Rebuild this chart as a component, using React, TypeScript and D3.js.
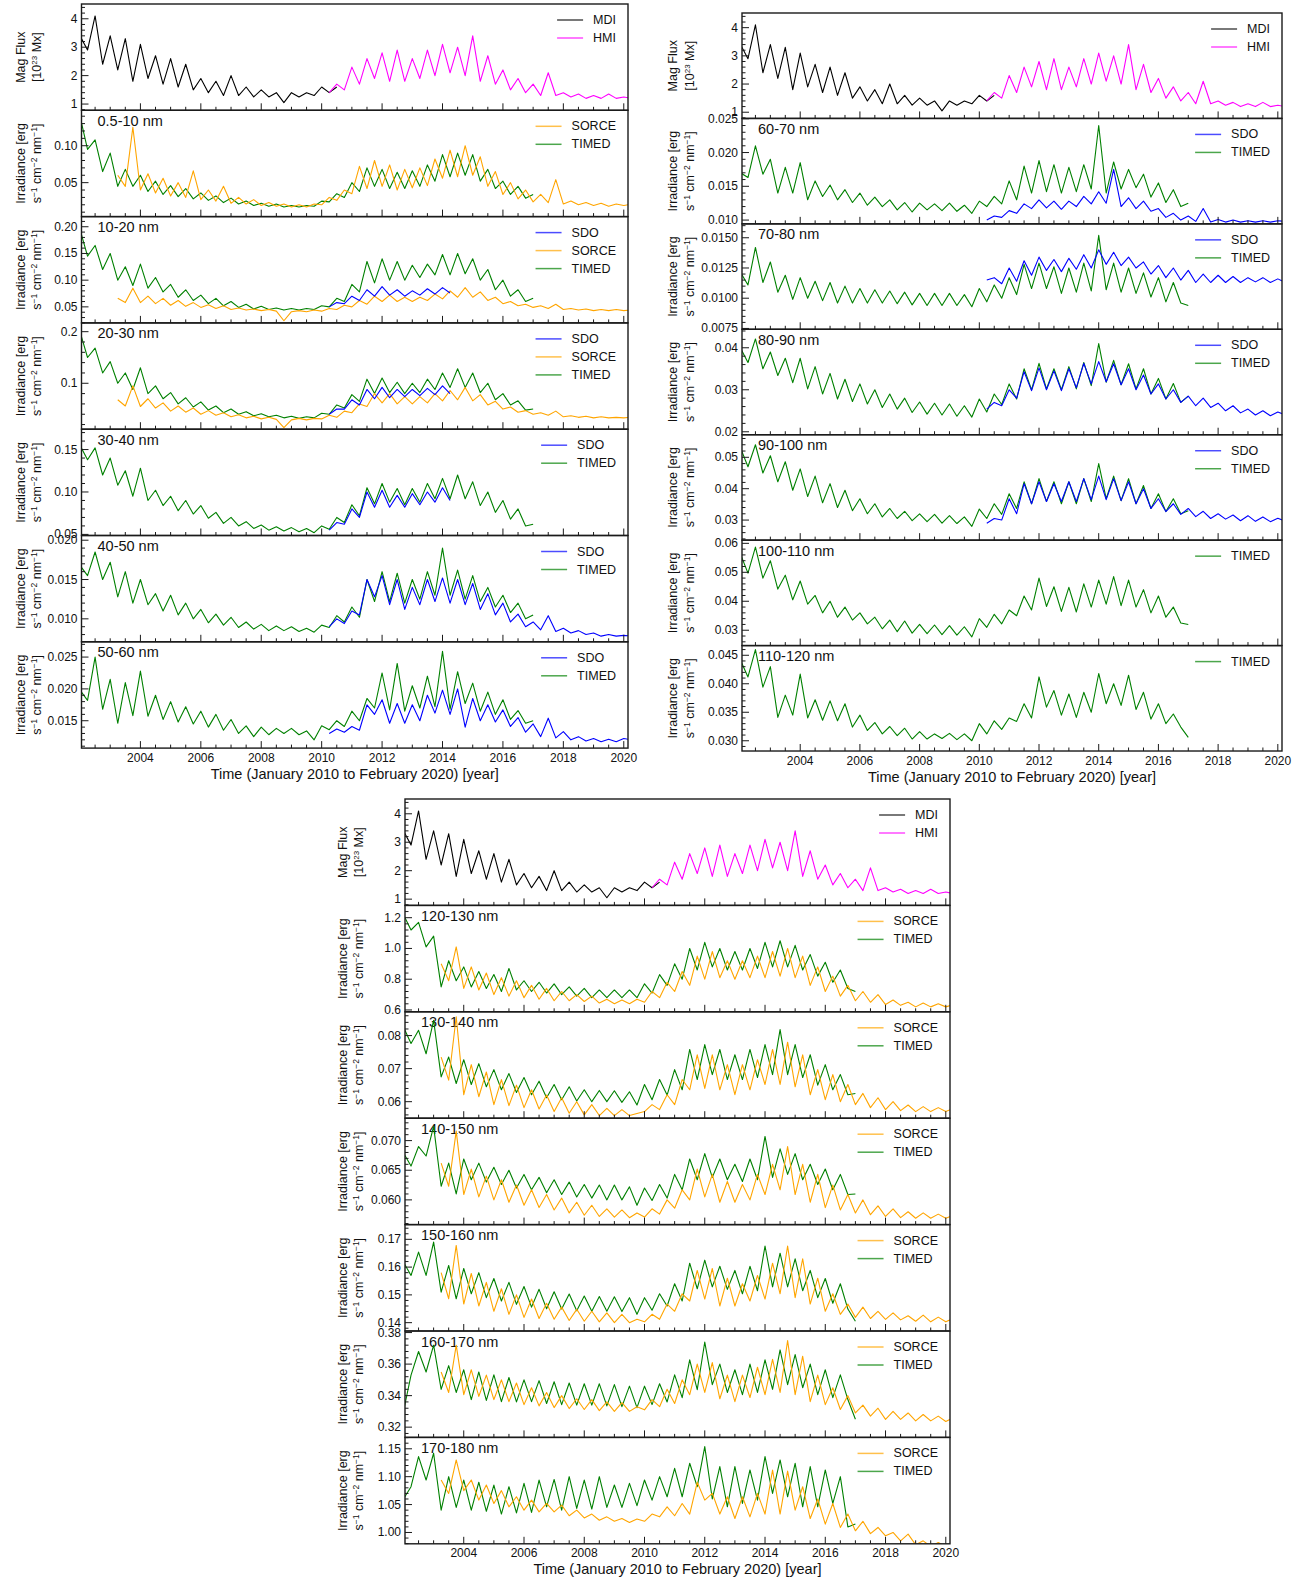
import React from "react";
import * as d3 from "d3";

// Each record is sampled every quarter year; consecutive samples alternate between the
// upper and lower edge of the rotational (27-day) spread of the daily values.
const STEP = 0.25;
const YEARS: [number, number] = [2002.05, 2020.14];

type Inst = "MDI" | "HMI" | "SDO" | "SORCE" | "TIMED";
const START_YEAR: Record<Inst, number> = { MDI: 2002.0, HMI: 2010.25, SDO: 2010.25, SORCE: 2003.25, TIMED: 2002.0 };
const COLOR: Record<Inst, string> = { MDI: "#000000", HMI: "#ff00ff", SDO: "#0000ff", SORCE: "#ffa500", TIMED: "#008000" };

// ---- total unsigned magnetic flux, units of 1e21 Mx (shown as 1e23 Mx) ----
const mdiFlux = [340,290,410,240,340,220,330,180,310,190,270,170,260,160,240,150,190,140,180,130,200,130,160,125,150,125,140,105,140,125,140,130,160,140,160];
const hmiFlux = [140,170,150,230,170,260,190,280,180,290,180,260,190,290,200,310,210,300,200,340,180,270,170,220,150,190,140,170,130,210,130,140,125,135,120,130,120,135,120,125,120];

// ---- 0.5-10 nm, units 1e-3 ----
const timed_05_10 = [140,95,108,65,90,45,68,45,60,38,52,34,46,31,42,28,36,26,32,23,29,21,25,19,22,18,21,17,19,17,19,18,25,24,35,30,50,38,70,45,68,42,64,42,66,45,74,52,88,58,90,60,88,52,68,42,52,34,45,29,34];
const sorce_05_10 = [60,45,125,40,62,36,56,32,50,30,66,27,40,25,45,22,30,21,27,19,23,18,21,17,20,17,21,20,30,26,40,35,72,42,80,45,74,40,68,43,70,46,82,56,94,58,100,60,85,45,65,34,50,28,40,24,34,23,54,21,25,20,23,19,22,18,21,19,21];

// ---- 10-20 nm, units 1e-3 ----
const timed_10_20 = [195,145,165,120,150,100,125,90,130,85,105,78,92,68,82,62,72,56,66,52,60,49,55,46,51,45,48,44,47,44,47,45,52,50,66,60,92,78,135,95,140,100,135,100,128,105,130,110,148,110,150,112,140,100,120,82,100,70,82,60,66];
const sorce_10_20 = [66,58,85,58,70,56,66,53,62,51,58,49,54,47,52,45,48,44,46,43,45,42,24,41,43,41,44,42,47,45,53,50,62,55,70,60,72,60,68,60,68,62,74,65,80,68,86,68,78,62,68,56,60,52,55,49,52,47,55,45,47,44,46,43,45,43,45,43,44];
const sdo_10_20 = [50,58,56,70,62,82,70,88,72,82,70,80,72,84,74,86,76];

// ---- 20-30 nm, units 1e-3 ----
const timed_20_30 = [200,150,168,120,142,100,120,88,130,80,95,70,82,60,72,54,64,48,56,43,50,40,45,37,41,35,38,33,36,32,35,33,42,40,58,52,78,65,108,80,110,82,102,80,100,82,108,88,120,92,128,92,120,82,100,68,80,58,66,48,50];
const sorce_20_30 = [68,56,95,55,70,52,62,46,56,44,52,40,47,38,43,35,39,33,36,31,34,30,14,29,32,29,32,31,38,34,46,43,60,55,80,62,80,60,74,60,74,62,80,66,86,68,92,66,78,58,65,50,54,44,47,40,43,38,46,35,37,34,36,33,35,33,34,33,34];
const sdo_20_30 = [40,50,50,68,58,88,70,92,72,88,74,88,76,90,78,95,80];

// ---- 30-40 nm, units 1e-3 ----
const timed_30_40 = [155,138,152,120,140,108,125,95,128,90,102,84,95,78,90,74,84,69,76,63,70,60,65,57,61,55,59,54,58,53,57,52,60,56,70,64,85,72,105,86,110,88,104,85,104,88,110,92,116,92,120,92,112,84,100,76,90,68,80,60,62];
const sdo_30_40 = [55,64,62,80,70,100,82,102,82,96,82,98,85,100,88,105,90];

// ---- 40-50 nm, units 1e-4 ----
const timed_40_50 = [168,155,185,150,172,128,160,120,150,118,132,110,130,105,120,100,112,95,106,92,102,89,96,87,93,85,91,85,90,84,88,83,92,89,104,96,115,102,150,122,160,122,158,120,150,125,160,130,190,130,162,125,155,122,140,115,130,108,120,100,105];
const sdo_40_50 = [90,100,94,110,105,150,128,155,118,150,112,140,118,150,122,152,120,150,118,145,112,132,105,120,96,106,90,96,86,104,84,88,82,85,80,82,78,80,78,79,78];

// ---- 50-60 nm, units 1e-4 ----
const timed_50_60 = [198,182,250,168,215,146,210,158,228,157,190,152,180,148,172,145,165,140,160,135,152,130,142,125,140,128,138,130,138,128,134,120,142,136,150,141,165,150,185,170,225,167,240,165,205,170,220,172,259,168,227,177,209,165,195,160,183,152,166,146,150];
const sdo_50_60 = [130,137,132,141,135,175,160,183,146,177,146,175,150,190,162,198,160,200,140,185,150,175,148,167,141,155,132,145,125,154,123,133,120,125,118,122,117,121,117,122,120];

// ---- 60-70 nm, units 1e-4 ----
const timed_60_70 = [170,163,210,168,190,140,178,140,185,130,158,135,152,130,145,126,140,122,134,120,130,115,126,112,125,115,124,114,125,113,122,110,128,120,135,124,158,130,180,140,188,142,182,140,178,142,182,146,240,140,186,146,175,148,168,134,155,126,145,120,125];
const sdo_60_70 = [100,106,104,114,110,124,117,130,118,128,116,128,120,135,124,142,125,175,120,133,117,128,113,117,104,110,100,106,98,117,97,101,97,100,97,99,97,99,97,99,98];

// ---- 70-80 nm, units 1e-5 ----
const timed_70_80 = [1214,1110,1420,1130,1300,1050,1190,990,1170,1000,1140,980,1130,960,1100,960,1080,960,1070,960,1060,955,1050,945,1040,940,1040,940,1040,940,1030,930,1080,970,1110,1000,1170,1030,1280,1080,1290,1080,1260,1040,1250,1050,1290,1060,1520,1070,1290,1050,1250,1040,1210,1010,1170,970,1130,960,940];
const sdo_70_80 = [1150,1170,1120,1250,1140,1310,1190,1340,1230,1320,1220,1330,1240,1360,1250,1400,1280,1380,1270,1340,1250,1300,1200,1270,1170,1250,1150,1230,1130,1200,1130,1190,1130,1180,1130,1170,1135,1170,1130,1160,1130];

// ---- 80-90 nm, units 1e-4 ----
const timed_80_90 = [399,365,421,350,390,334,375,317,375,302,355,290,339,278,325,272,314,266,300,258,290,254,280,246,271,242,268,240,266,237,262,235,278,247,290,265,314,278,350,300,363,302,350,300,355,302,365,310,410,318,370,312,362,302,350,290,327,278,315,270,285];
const sdo_80_90 = [254,270,262,300,280,343,298,352,300,345,298,350,305,363,314,367,319,362,312,350,300,335,290,314,278,300,270,285,262,280,258,268,250,262,245,254,240,250,238,247,240];

// ---- 90-100 nm, units 1e-4 ----
const timed_90_100 = [530,470,540,450,505,422,486,395,463,375,440,355,416,340,395,330,368,320,352,310,337,305,328,298,320,295,318,290,314,289,310,280,335,305,352,318,384,337,422,352,432,359,422,352,422,352,432,359,480,368,440,362,432,352,410,337,384,327,368,320,330];
const sdo_90_100 = [290,305,300,368,320,416,352,422,359,416,359,422,359,432,365,440,365,432,362,422,352,400,337,368,327,352,318,337,311,328,305,320,303,316,298,314,296,310,295,306,296];

// ---- 100-110 nm, units 1e-4 ----
const timed_100_110 = [562,497,587,480,540,442,490,405,470,390,420,360,400,345,380,335,360,322,345,305,335,295,332,290,320,288,318,285,316,283,312,277,340,310,355,322,370,350,418,370,480,382,450,365,448,363,460,380,473,390,485,385,473,380,440,360,418,345,380,325,320];

// ---- 110-120 nm, units 1e-4 ----
const timed_110_120 = [441,412,460,394,430,341,380,345,417,340,372,336,370,335,365,324,345,318,332,312,325,309,322,303,316,303,312,304,313,302,312,300,330,312,335,320,340,334,365,340,412,359,388,345,382,341,385,350,418,365,400,362,415,355,385,338,365,330,347,324,306];

// ---- 120-130 nm, units 1e-3 ----
const timed_120_130 = [1220,1120,1170,1010,1080,750,920,790,880,750,850,740,830,720,870,730,790,720,780,710,770,700,750,690,740,680,730,680,730,680,730,680,770,710,830,760,900,800,1000,860,1040,880,1000,860,980,860,1000,870,1040,880,1050,880,1020,860,960,820,910,780,860,740,720];
const sorce_120_130 = [900,790,1010,740,880,730,840,700,810,690,790,680,760,670,740,660,720,660,700,655,690,645,670,640,665,640,670,650,720,680,780,720,850,760,950,800,980,810,920,800,920,810,950,810,980,820,1000,810,950,760,880,720,820,690,760,660,720,650,700,635,665,630,650,620,645,620,640,620,635];

// ---- 130-140 nm, units 1e-4 ----
const timed_130_140 = [826,776,816,745,846,675,735,655,727,652,715,645,697,636,685,628,673,621,662,612,652,606,645,602,636,600,634,600,633,598,630,590,652,606,667,620,697,636,758,667,773,682,758,667,742,667,758,673,773,682,818,682,773,673,742,650,712,636,682,621,625];
const sorce_130_140 = [735,665,857,621,712,615,690,591,667,588,650,582,636,578,620,570,612,565,600,560,591,558,580,558,576,558,564,570,591,576,621,591,667,636,742,640,742,636,712,621,712,636,727,652,758,652,780,645,742,621,697,606,682,600,652,591,625,582,612,576,600,573,590,570,585,570,582,570,580];

// ---- 140-150 nm, units 1e-5 ----
const timed_140_150 = [6790,6570,6900,6740,7240,6230,6620,6100,6690,6340,6620,6300,6550,6260,6500,6200,6430,6170,6380,6120,6340,6090,6300,6050,6260,6030,6250,6000,6250,6000,6220,5910,6200,5990,6260,6030,6430,6170,6690,6340,6780,6380,6690,6340,6600,6310,6690,6340,7070,6380,6860,6430,6780,6340,6600,6260,6520,6170,6430,6090,6100];
const sorce_140_150 = [6620,6230,7160,6090,6520,6050,6400,6000,6340,5960,6250,5910,6170,5870,6090,5830,6030,5780,5960,5740,5910,5720,5850,5710,5830,5700,5780,5710,5850,5760,6000,5860,6170,6000,6520,6050,6430,5960,6310,5960,6260,6000,6430,6090,6600,6170,6900,6090,6600,5960,6430,5870,6250,5830,6090,5780,6000,5750,5900,5720,5850,5700,5800,5690,5780,5690,5760,5690,5740];

// ---- 150-160 nm, units 1e-4 ----
const timed_150_160 = [1618,1570,1654,1570,1690,1510,1606,1486,1595,1504,1580,1490,1559,1478,1545,1466,1530,1456,1520,1450,1511,1449,1503,1443,1496,1441,1494,1441,1493,1440,1490,1430,1490,1445,1504,1460,1540,1478,1614,1522,1625,1529,1603,1520,1588,1504,1603,1515,1676,1529,1650,1529,1630,1515,1588,1490,1559,1470,1540,1449,1405];
const sorce_150_160 = [1580,1486,1678,1467,1577,1460,1545,1441,1522,1430,1500,1419,1485,1415,1470,1412,1456,1408,1448,1405,1441,1403,1435,1400,1430,1400,1412,1403,1430,1412,1467,1441,1504,1478,1588,1485,1595,1460,1560,1460,1540,1478,1570,1485,1614,1504,1676,1490,1630,1467,1560,1441,1504,1430,1467,1419,1456,1415,1441,1412,1435,1410,1425,1405,1427,1403,1420,1403,1415];

// ---- 160-170 nm, units 1e-4 ----
const timed_160_170 = [3300,3530,3680,3550,3720,3440,3590,3420,3564,3375,3550,3370,3532,3362,3515,3360,3500,3362,3495,3350,3488,3343,3480,3340,3475,3340,3475,3335,3470,3330,3460,3324,3460,3343,3475,3360,3532,3387,3627,3438,3740,3470,3600,3420,3564,3406,3600,3420,3627,3440,3690,3470,3660,3450,3600,3406,3564,3387,3532,3375,3250];
const sorce_160_170 = [3550,3420,3720,3406,3564,3395,3530,3375,3500,3362,3480,3343,3450,3335,3420,3324,3400,3318,3380,3312,3375,3305,3360,3300,3355,3300,3330,3310,3375,3330,3440,3350,3500,3406,3600,3420,3610,3380,3530,3362,3530,3388,3580,3406,3630,3420,3750,3406,3650,3362,3530,3343,3450,3312,3400,3290,3340,3270,3320,3249,3300,3249,3290,3240,3280,3240,3270,3236,3260];

// ---- 170-180 nm, units 1e-3 ----
const timed_170_180 = [1060,1082,1136,1094,1142,1040,1100,1045,1094,1040,1090,1038,1085,1033,1082,1035,1088,1036,1094,1046,1095,1040,1100,1043,1094,1042,1100,1045,1085,1045,1088,1048,1094,1058,1100,1064,1115,1064,1124,1082,1154,1060,1118,1046,1118,1052,1112,1058,1136,1070,1130,1064,1124,1046,1118,1046,1112,1052,1100,1010,1015];
const sorce_170_180 = [1094,1070,1130,1075,1094,1058,1085,1052,1075,1046,1064,1040,1058,1037,1052,1037,1049,1030,1040,1026,1033,1022,1028,1020,1025,1018,1024,1020,1033,1028,1046,1030,1052,1033,1090,1058,1070,1033,1064,1025,1064,1028,1070,1033,1112,1033,1110,1040,1082,1025,1060,1015,1052,1009,1033,1003,1020,998,1009,994,1000,985,997,978,985,975,982,975,980];

// ---------------------------------------------------------------------------
interface PanelDef {
  band: string | null;
  unit: number;
  domain: [number, number];
  major: number;
  fmt: string;
  kind: "mag" | "irr";
  draw: [Inst, number[]][];
  legend: Inst[];
}

const irr = (band: string, unit: number, domain: [number, number], major: number, fmt: string,
  draw: [Inst, number[]][], legend: Inst[]): PanelDef => ({ band, unit, domain, major, fmt, kind: "irr", draw, legend });

const MAG: PanelDef = {
  band: null, unit: 0.01, domain: [0.78, 4.52], major: 1, fmt: "d", kind: "mag",
  draw: [["MDI", mdiFlux], ["HMI", hmiFlux]], legend: ["MDI", "HMI"],
};

const LEFT_PANELS: PanelDef[] = [
  MAG,
  irr("0.5-10 nm", 1e-3, [0.004, 0.148], 0.05, ".2f", [["TIMED", timed_05_10], ["SORCE", sorce_05_10]], ["SORCE", "TIMED"]),
  irr("10-20 nm", 1e-3, [0.020, 0.219], 0.05, ".2f", [["TIMED", timed_10_20], ["SORCE", sorce_10_20], ["SDO", sdo_10_20]], ["SDO", "SORCE", "TIMED"]),
  irr("20-30 nm", 1e-3, [0.011, 0.217], 0.1, ".1f", [["TIMED", timed_20_30], ["SORCE", sorce_20_30], ["SDO", sdo_20_30]], ["SDO", "SORCE", "TIMED"]),
  irr("30-40 nm", 1e-3, [0.0487, 0.174], 0.05, ".2f", [["TIMED", timed_30_40], ["SDO", sdo_30_40]], ["SDO", "TIMED"]),
  irr("40-50 nm", 1e-4, [0.00708, 0.0206], 0.005, ".3f", [["TIMED", timed_40_50], ["SDO", sdo_40_50]], ["SDO", "TIMED"]),
  irr("50-60 nm", 1e-4, [0.0107, 0.0274], 0.005, ".3f", [["TIMED", timed_50_60], ["SDO", sdo_50_60]], ["SDO", "TIMED"]),
];

const RIGHT_PANELS: PanelDef[] = [
  MAG,
  irr("60-70 nm", 1e-4, [0.00944, 0.02505], 0.005, ".3f", [["TIMED", timed_60_70], ["SDO", sdo_60_70]], ["SDO", "TIMED"]),
  irr("70-80 nm", 1e-5, [0.00743, 0.01615], 0.0025, ".4f", [["TIMED", timed_70_80], ["SDO", sdo_70_80]], ["SDO", "TIMED"]),
  irr("80-90 nm", 1e-4, [0.0193, 0.0444], 0.01, ".2f", [["TIMED", timed_80_90], ["SDO", sdo_80_90]], ["SDO", "TIMED"]),
  irr("90-100 nm", 1e-4, [0.0236, 0.0572], 0.01, ".2f", [["TIMED", timed_90_100], ["SDO", sdo_90_100]], ["SDO", "TIMED"]),
  irr("100-110 nm", 1e-4, [0.0247, 0.0611], 0.01, ".2f", [["TIMED", timed_100_110]], ["TIMED"]),
  irr("110-120 nm", 1e-4, [0.0282, 0.0467], 0.005, ".3f", [["TIMED", timed_110_120]], ["TIMED"]),
];

const BOTTOM_PANELS: PanelDef[] = [
  MAG,
  irr("120-130 nm", 1e-3, [0.588, 1.28], 0.2, ".1f", [["TIMED", timed_120_130], ["SORCE", sorce_120_130]], ["SORCE", "TIMED"]),
  irr("130-140 nm", 1e-4, [0.055, 0.0872], 0.01, ".2f", [["TIMED", timed_130_140], ["SORCE", sorce_130_140]], ["SORCE", "TIMED"]),
  irr("140-150 nm", 1e-5, [0.05583, 0.07378], 0.005, ".3f", [["TIMED", timed_140_150], ["SORCE", sorce_140_150]], ["SORCE", "TIMED"]),
  irr("150-160 nm", 1e-4, [0.137, 0.1753], 0.01, ".2f", [["TIMED", timed_150_160], ["SORCE", sorce_150_160]], ["SORCE", "TIMED"]),
  irr("160-170 nm", 1e-4, [0.3135, 0.381], 0.02, ".2f", [["TIMED", timed_160_170], ["SORCE", sorce_160_170]], ["SORCE", "TIMED"]),
  irr("170-180 nm", 1e-3, [0.9797, 1.1704], 0.05, ".2f", [["TIMED", timed_170_180], ["SORCE", sorce_170_180]], ["SORCE", "TIMED"]),
];

interface ColumnDef { x0: number; x1: number; top: number; h: number; lab1: number; lab2: number; panels: PanelDef[] }

const COLUMNS: ColumnDef[] = [
  { x0: 81.5, x1: 628, top: 4, h: 106.3, lab1: 21, lab2: 37, panels: LEFT_PANELS },
  { x0: 742, x1: 1282, top: 13, h: 105.43, lab1: 673, lab2: 690, panels: RIGHT_PANELS },
  { x0: 405, x1: 950, top: 799, h: 106.4, lab1: 343, lab2: 359, panels: BOTTOM_PANELS },
];

const FONT = "'Liberation Sans', Arial, Helvetica, sans-serif";
const INK = "#1a1a1a";

let measureCtx: CanvasRenderingContext2D | null = null;
function textWidth(s: string, size: number): number {
  if (!measureCtx) measureCtx = document.createElement("canvas").getContext("2d");
  if (!measureCtx) return s.length * size * 0.6;
  measureCtx.font = `${size}px ${FONT}`;
  return measureCtx.measureText(s).width;
}

function Panel({ p, col, ci, i, x, halfYears }: { p: PanelDef; col: ColumnDef; ci: number; i: number; x: d3.ScaleLinear<number, number>; halfYears: number[] }) {
  const top = col.top + i * col.h;
  const bottom = top + col.h;
  const cy = (top + bottom) / 2;
  const y = d3.scaleLinear().domain(p.domain).range([bottom, top]);
  const fmt = d3.format(p.fmt);
  const minor = p.major / 5;
  const k0 = Math.ceil(p.domain[0] / minor - 1e-6);
  const k1 = Math.floor(p.domain[1] / minor + 1e-6);
  const yTicks = d3.range(k0, k1 + 1);
  const clipId = `clip-${ci}-${i}`;

  const legendSize = 12.5;
  const maxW = Math.max(...p.legend.map((n) => textWidth(n, legendSize)));
  const legTextX = col.x1 - 12 - maxW;
  const legLineX2 = legTextX - 10;
  const legLineX1 = legLineX2 - 26;

  return (
    <g>
      <defs>
        <clipPath id={clipId}>
          <rect x={col.x0} y={top} width={col.x1 - col.x0} height={col.h} />
        </clipPath>
      </defs>
      {p.band && (
        <text x={col.x0 + 16} y={top + 15.5} fontSize={14.5} fill="#111">{p.band}</text>
      )}
      <g clipPath={`url(#${clipId})`}>
        {p.draw.map(([inst, vals]) => {
          const line = d3.line<number>()
            .x((_, k) => x(START_YEAR[inst] + k * STEP))
            .y((v) => y(v * p.unit));
          return <path key={inst} d={line(vals) || ""} fill="none" stroke={COLOR[inst]} strokeWidth={1.1} strokeLinejoin="round" />;
        })}
      </g>
      {p.legend.map((name, j) => {
        const ly = top + 16 + 18 * j;
        return (
          <g key={name}>
            <line x1={legLineX1} x2={legLineX2} y1={ly} y2={ly} stroke={COLOR[name]} strokeWidth={1.5} strokeOpacity={0.7} />
            <text x={legTextX} y={ly} dominantBaseline="central" fontSize={legendSize} fill="#111">{name}</text>
          </g>
        );
      })}
      {halfYears.map((k) => {
        const len = k % 4 === 0 ? 7 : 3.5;
        return <line key={`xt${k}`} x1={x(k / 2)} x2={x(k / 2)} y1={bottom} y2={bottom - len} stroke={INK} strokeWidth={1} />;
      })}
      {yTicks.map((k) => {
        const v = k * minor;
        const isMajor = k % 5 === 0;
        return (
          <g key={`yt${k}`}>
            <line x1={col.x0} x2={col.x0 + (isMajor ? 7 : 3.5)} y1={y(v)} y2={y(v)} stroke={INK} strokeWidth={1} />
            {isMajor && (
              <text x={col.x0 - 4} y={y(v)} dominantBaseline="central" textAnchor="end" fontSize={12} fill="#111">{fmt(v)}</text>
            )}
          </g>
        );
      })}
      <rect x={col.x0} y={top} width={col.x1 - col.x0} height={col.h} fill="none" stroke={INK} strokeWidth={1.4} />
      {p.kind === "mag" ? (
        <g fontSize={12.5} fill="#111" textAnchor="middle">
          <text transform={`translate(${col.lab1},${cy}) rotate(-90)`} y={4.4}>Mag Flux</text>
          <text transform={`translate(${col.lab2},${cy}) rotate(-90)`} y={4.4}>
            [10<tspan dy={-4.5} fontSize={8}>23</tspan><tspan dy={4.5}> Mx]</tspan>
          </text>
        </g>
      ) : (
        <g fontSize={12.5} fill="#111" textAnchor="middle">
          <text transform={`translate(${col.lab1},${cy}) rotate(-90)`} y={4.4}>Irradiance [erg</text>
          <text transform={`translate(${col.lab2},${cy}) rotate(-90)`} y={4.4}>
            s<tspan dy={-4.5} fontSize={8.5}>−1</tspan>
            <tspan dy={4.5}> cm</tspan><tspan dy={-4.5} fontSize={8.5}>−2</tspan>
            <tspan dy={4.5}> nm</tspan><tspan dy={-4.5} fontSize={8.5}>−1</tspan>
            <tspan dy={4.5}>]</tspan>
          </text>
        </g>
      )}
    </g>
  );
}

function Column({ col, ci }: { col: ColumnDef; ci: number }) {
  const x = d3.scaleLinear().domain(YEARS).range([col.x0, col.x1]);
  const halfYears = d3.range(Math.ceil(YEARS[0] * 2), Math.floor(YEARS[1] * 2) + 1);
  const bottomAll = col.top + col.h * col.panels.length;
  return (
    <g>
      {col.panels.map((p, i) => (
        <Panel key={i} p={p} col={col} ci={ci} i={i} x={x} halfYears={halfYears} />
      ))}
      {halfYears.filter((k) => k % 4 === 0).map((k) => (
        <text key={k} x={x(k / 2)} y={bottomAll + 13.5} textAnchor="middle" fontSize={12} fill="#111">{k / 2}</text>
      ))}
      <text x={(col.x0 + col.x1) / 2} y={bottomAll + 30.5} textAnchor="middle" fontSize={14.5} fill="#111">
        Time (January 2010 to February 2020) [year]
      </text>
    </g>
  );
}

export default function App() {
  return (
    <svg
      width={1306}
      height={1580}
      viewBox="0 0 1306 1580"
      style={{ position: "absolute", left: 0, top: 0, background: "#ffffff" }}
      fontFamily={FONT}
    >
      <rect x={0} y={0} width={1306} height={1580} fill="#ffffff" />
      {COLUMNS.map((col, ci) => (
        <Column key={ci} col={col} ci={ci} />
      ))}
    </svg>
  );
}
